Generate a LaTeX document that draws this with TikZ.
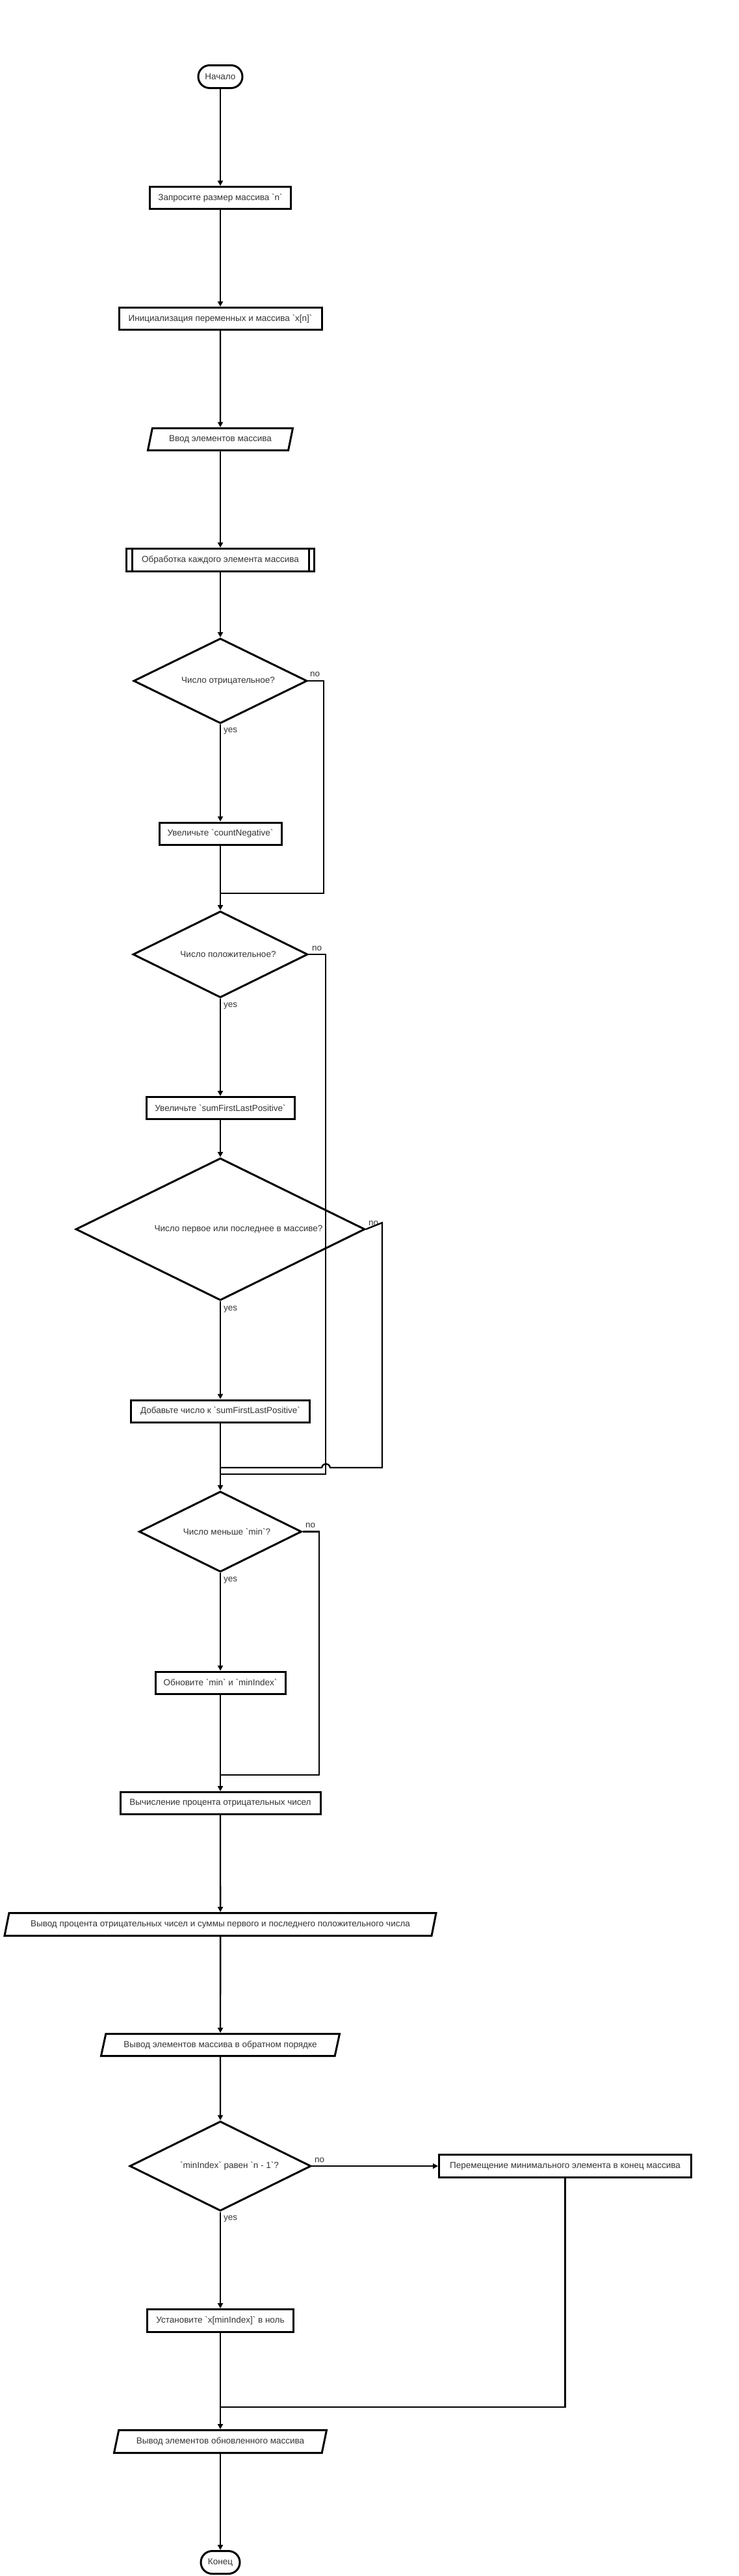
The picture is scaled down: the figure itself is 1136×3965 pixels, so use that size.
\documentclass[tikz,border=0pt]{standalone}
\usepackage{fontspec}
\setmainfont{Liberation Sans}[Ligatures=TeXOff]
\usetikzlibrary{shapes.geometric,shapes.misc,arrows.meta}
\definecolor{txt}{HTML}{333333}

\tikzset{
  base/.style={draw=black, line width=3pt, fill=white, text=txt, inner sep=0pt,
    font=\fontsize{13.5}{16}\selectfont},
  term/.style={base, rounded rectangle, minimum height=35pt},
  proc/.style={base, rectangle, minimum height=34pt},
  io/.style={base, trapezium, trapezium left angle=60, trapezium right angle=120,
    trapezium stretches body, minimum height=34pt},
  dec/.style={base, diamond, aspect=2},
  lbl/.style={text=txt, inner sep=0pt, anchor=west, font=\fontsize{13.5}{16}\selectfont},
  line/.style={draw=black, line width=2.4pt},
  arr/.style={line, -{Triangle[length=8pt,width=8pt]}},
}

\begin{document}
\begin{tikzpicture}[x=1pt,y=1pt,yscale=-1,xscale=1]
    \useasboundingbox (0,0) rectangle (1136,3965);

    % Text Node
    \node[term, minimum width=68pt] (start) at (339,118) {Начало};
    % Text Node
    \node[proc, minimum width=217pt] (ask) at (339,304.5) {Запросите размер массива `n`};
    % Text Node
    \node[proc, minimum width=312pt] (init) at (339,490.5) {Инициализация переменных и массива `x[n]`};
    % Text Node
    \node[io, minimum width=223pt] (input) at (339,676) {Ввод элементов массива};
    % Text Node
    \node[proc, minimum width=289pt, minimum height=35pt] (loop) at (339,862) {Обработка каждого элемента массива};
    \draw[line width=3pt] ([xshift=10pt]loop.north west) -- ([xshift=10pt]loop.south west);
    \draw[line width=3pt] ([xshift=-10pt]loop.north east) -- ([xshift=-10pt]loop.south east);
    % Text Node
    \node[dec, minimum width=267pt, minimum height=131pt] (neg) at (339,1048) {\hspace*{24pt}Число отрицательное?};
    % Text Node
    \node[proc, minimum width=188pt] (incNeg) at (339,1283) {Увеличьте `countNegative`};
    % Text Node
    \node[dec, minimum width=269pt, minimum height=133pt] (pos) at (339,1469) {\hspace*{24pt}Число положительное?};
    % Text Node
    \node[proc, minimum width=228pt] (incSum) at (339,1705.5) {Увеличьте `sumFirstLastPositive`};
    % Text Node
    \node[dec, minimum width=445pt, minimum height=219pt] (first) at (339,1892) {\hspace*{56pt}Число первое или последнее в массиве?};
    % Text Node
    \node[proc, minimum width=275pt] (addSum) at (339,2172) {Добавьте число к `sumFirstLastPositive`};
    % Text Node
    \node[dec, minimum width=250pt, minimum height=124pt] (less) at (339,2357.5) {\hspace*{20pt}Число меньше `min`?};
    % Text Node
    \node[proc, minimum width=200pt] (upd) at (339,2590) {Обновите `min` и `minIndex`};
    % Text Node
    \node[proc, minimum width=308pt] (calc) at (339,2775.5) {Вычисление процента отрицательных чисел};
    % Text Node
    \node[io, minimum width=664pt, minimum height=35pt] (out1) at (339,2962) {Вывод процента отрицательных чисел и суммы первого и последнего положительного числа};
    % Text Node
    \node[io, minimum width=367pt] (out2) at (339,3147.5) {Вывод элементов массива в обратном порядке};
    % Text Node
    \node[dec, minimum width=279pt, minimum height=138pt] (idx) at (339,3334) {\hspace*{28pt}`minIndex` равен `n - 1`?};
    % Text Node
    \node[proc, minimum width=388pt, minimum height=35pt] (move) at (869.5,3334) {Перемещение минимального элемента в конец массива};
    % Text Node
    \node[proc, minimum width=225pt, minimum height=35pt] (setz) at (339,3572) {Установите `x[minIndex]` в ноль};
    % Text Node
    \node[io, minimum width=327pt, minimum height=35pt] (out3) at (339,3758) {Вывод элементов обновленного массива};
    % Text Node
    \node[term, minimum width=60pt] (end) at (339,3944) {Конец};

    % Labels
    \node[lbl] (yes1) at (344,1125) {yes};
    \node[lbl] (no1) at (477,1038) {no};
    \node[lbl] (yes2) at (344,1548) {yes};
    \node[lbl] (no2) at (480,1460) {no};
    \node[lbl] (yes3) at (344,2015) {yes};
    \node[lbl] (no3) at (567,1883) {no};
    \node[lbl] (yes4) at (344,2432) {yes};
    \node[lbl] (no4) at (470,2348) {no};
    \node[lbl] (yes5) at (344,3415) {yes};
    \node[lbl] (no5) at (484,3325) {no};

    % Bends
    \coordinate (b1) at (498,1375);
    \coordinate (m1) at (339,1375);
    \coordinate (b2) at (501,2269);
    \coordinate (m2) at (339,2269);
    \coordinate (f1) at (588,1882);
    \coordinate (f2) at (588,2259);
    \coordinate (h1) at (508,2259);
    \coordinate (h2) at (495,2259);
    \coordinate (m3) at (339,2259);
    \coordinate (b4) at (491,2732);
    \coordinate (m4) at (339,2732);
    \coordinate (m5) at (339,3705);

    % Connection
    \draw[arr] (start) -- (ask);
    \draw[arr] (ask) -- (init);
    \draw[arr] (init) -- (input);
    \draw[arr] (input) -- (loop);
    \draw[arr] (loop) -- (neg);
    \draw[arr] (neg) -- (incNeg);
    \draw[arr] (incNeg) -- (pos);
    \draw[line] (neg.east) -| (b1) -- (m1);
    \draw[arr] (pos) -- (incSum);
    \draw[arr] (incSum) -- (first);
    \draw[line] (pos.east) -| (b2) -- (m2);
    \draw[arr] (first) -- (addSum);
    \draw[line] (first.east) -- (f1) -- (f2) -- (h1) .. controls +(-2,-8) and +(2,-8) .. (h2) -- (m3);
    \draw[arr] (addSum) -- (less);
    \draw[arr] (less) -- (upd);
    \draw[line] (less.east) -| (b4) -- (m4);
    \draw[arr] (upd) -- (calc);
    \draw[arr] (calc) -- (out1);
    \draw[arr] (out1) -- (out2);
    \draw[arr] (out2) -- (idx);
    \draw[arr] (idx) -- (move);
    \draw[arr] (idx) -- (setz);
    \draw[line] (move) |- (m5);
    \draw[arr] (setz) -- (out3);
    \draw[arr] (out3) -- (end);

\end{tikzpicture}
\end{document}
